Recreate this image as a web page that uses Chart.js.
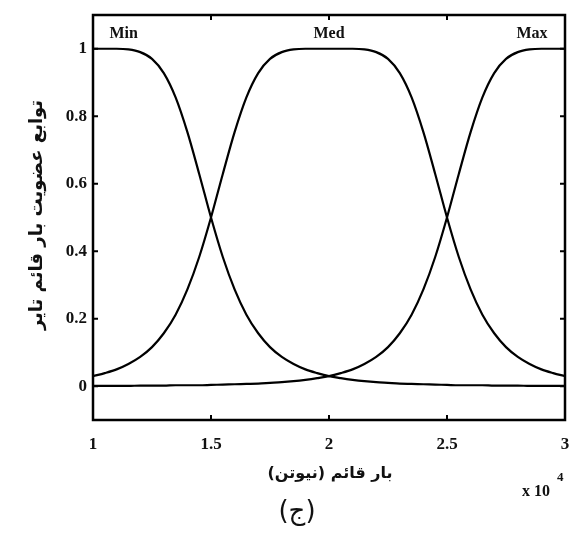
<!DOCTYPE html>
<html>
<head>
<meta charset="utf-8">
<script src="https://cdn.jsdelivr.net/npm/chart.js@4"></script>
<style>
  html, body { margin: 0; padding: 0; background: #fff; }
</style>
</head>
<body>
<canvas id="chart" width="573" height="534"></canvas>
<script>
// values (x in units of 10^4 N)
const xValues = [1.00, 1.05, 1.10, 1.15, 1.20, 1.25, 1.30, 1.35, 1.40, 1.45,
                 1.50, 1.55, 1.60, 1.65, 1.70, 1.75, 1.80, 1.85, 1.90, 1.95,
                 2.00, 2.05, 2.10, 2.15, 2.20, 2.25, 2.30, 2.35, 2.40, 2.45,
                 2.50, 2.55, 2.60, 2.65, 2.70, 2.75, 2.80, 2.85, 2.90, 2.95, 3.00];

const minValues = [1.000, 1.000, 1.000, 0.998, 0.990, 0.970, 0.928, 0.856, 0.753, 0.629,
                   0.500, 0.383, 0.287, 0.212, 0.157, 0.116, 0.087, 0.066, 0.050, 0.039,
                   0.030, 0.024, 0.019, 0.015, 0.012, 0.010, 0.008, 0.007, 0.006, 0.005,
                   0.004, 0.003, 0.003, 0.003, 0.002, 0.002, 0.002, 0.001, 0.001, 0.001, 0.001];

const medValues = [0.030, 0.039, 0.050, 0.066, 0.087, 0.116, 0.157, 0.212, 0.287, 0.383,
                   0.500, 0.629, 0.753, 0.856, 0.928, 0.970, 0.990, 0.998, 1.000, 1.000,
                   1.000, 1.000, 1.000, 0.998, 0.990, 0.970, 0.928, 0.856, 0.753, 0.629,
                   0.500, 0.383, 0.287, 0.212, 0.157, 0.116, 0.087, 0.066, 0.050, 0.039, 0.030];

const maxValues = [0.001, 0.001, 0.001, 0.001, 0.002, 0.002, 0.002, 0.003, 0.003, 0.003,
                   0.004, 0.005, 0.006, 0.007, 0.008, 0.010, 0.012, 0.015, 0.019, 0.024,
                   0.030, 0.039, 0.050, 0.066, 0.087, 0.116, 0.157, 0.212, 0.287, 0.383,
                   0.500, 0.629, 0.753, 0.856, 0.928, 0.970, 0.990, 0.998, 1.000, 1.000, 1.000];

const seriesNames = ['Min', 'Med', 'Max'];
const xTicks = [1, 1.5, 2, 2.5, 3];
const yTicks = [0, 0.2, 0.4, 0.6, 0.8, 1];

const xTitle = 'بار قائم (نیوتن)';
const yTitle = 'توابع عضویت بار قائم تایر';
const caption = '(ج)';

const toPoints = vals => vals.map((v, i) => ({ x: xValues[i], y: v }));

const serif = "'Liberation Serif', 'Times New Roman', serif";
const arabic = "'DejaVu Sans', sans-serif";

// frame, inward ticks, curve names and the Persian titles
const decorations = {
    id: 'decorations',
    afterDraw(chart) {
        const { ctx, chartArea: a, scales } = chart;
        const x = scales.x, y = scales.y;
        ctx.save();
        ctx.strokeStyle = '#000';
        ctx.lineWidth = 2.5;
        ctx.strokeRect(a.left, a.top, a.right - a.left, a.bottom - a.top);

        ctx.lineWidth = 2;
        ctx.beginPath();
        xTicks.forEach(v => {
            const px = x.getPixelForValue(v);
            ctx.moveTo(px, a.bottom); ctx.lineTo(px, a.bottom - 5);
            ctx.moveTo(px, a.top);    ctx.lineTo(px, a.top + 5);
        });
        yTicks.forEach(v => {
            const py = y.getPixelForValue(v);
            ctx.moveTo(a.left, py);  ctx.lineTo(a.left + 5, py);
            ctx.moveTo(a.right, py); ctx.lineTo(a.right - 5, py);
        });
        ctx.stroke();

        ctx.fillStyle = '#111';
        ctx.textAlign = 'center';
        ctx.textBaseline = 'middle';
        ctx.font = 'bold 16px ' + serif;
        const nameX = [1.13, 2.0, 2.86];
        seriesNames.forEach((n, i) => {
            ctx.fillText(n, x.getPixelForValue(nameX[i]), y.getPixelForValue(1.045));
        });

        ctx.direction = 'rtl';
        ctx.font = 'bold 16px ' + arabic;
        ctx.fillText(xTitle, 330, 474);

        ctx.save();
        ctx.translate(37, 215);
        ctx.rotate(-Math.PI / 2);
        ctx.font = 'bold 18px ' + arabic;
        ctx.fillText(yTitle, 0, 0);
        ctx.restore();

        ctx.font = '26px ' + arabic;
        ctx.fillText(caption, 297, 512);

        ctx.direction = 'ltr';
        ctx.textAlign = 'left';
        ctx.textBaseline = 'alphabetic';
        ctx.font = 'bold 16px ' + serif;
        ctx.fillText('x 10', 522, 496);
        ctx.font = 'bold 13px ' + serif;
        ctx.fillText('4', 557, 481);
        ctx.restore();
    }
};

const lineStyle = {
    borderColor: '#000',
    borderWidth: 2.2,
    pointRadius: 0,
    fill: false,
    cubicInterpolationMode: 'monotone'
};

new Chart(document.getElementById('chart'), {
    type: 'line',
    data: {
        datasets: [
            { label: seriesNames[0], data: toPoints(minValues), ...lineStyle },
            { label: seriesNames[1], data: toPoints(medValues), ...lineStyle },
            { label: seriesNames[2], data: toPoints(maxValues), ...lineStyle }
        ]
    },
    options: {
        responsive: false,
        animation: false,
        devicePixelRatio: 1,
        layout: { padding: { top: 15, right: 8, left: 0, bottom: 0 } },
        plugins: { legend: { display: false }, tooltip: { enabled: false } },
        scales: {
            x: {
                type: 'linear',
                min: 1,
                max: 3,
                afterBuildTicks: s => { s.ticks = xTicks.map(v => ({ value: v })); },
                afterFit: s => { s.height = 114; s.paddingLeft = 0; s.paddingRight = 0; },
                grid: { display: false, drawTicks: false },
                border: { display: false },
                ticks: {
                    color: '#111', padding: 14, maxRotation: 0,
                    font: { family: serif, size: 17, weight: 'bold' },
                    callback: v => String(v)
                }
            },
            y: {
                min: -0.1,
                max: 1.1,
                afterBuildTicks: s => { s.ticks = yTicks.map(v => ({ value: v })); },
                afterFit: s => { s.width = 93; s.paddingTop = 0; s.paddingBottom = 0; },
                grid: { display: false, drawTicks: false },
                border: { display: false },
                ticks: {
                    color: '#111', padding: 6,
                    font: { family: serif, size: 17, weight: 'bold' },
                    callback: v => String(v)
                }
            }
        }
    },
    plugins: [decorations]
});
</script>
</body>
</html>
